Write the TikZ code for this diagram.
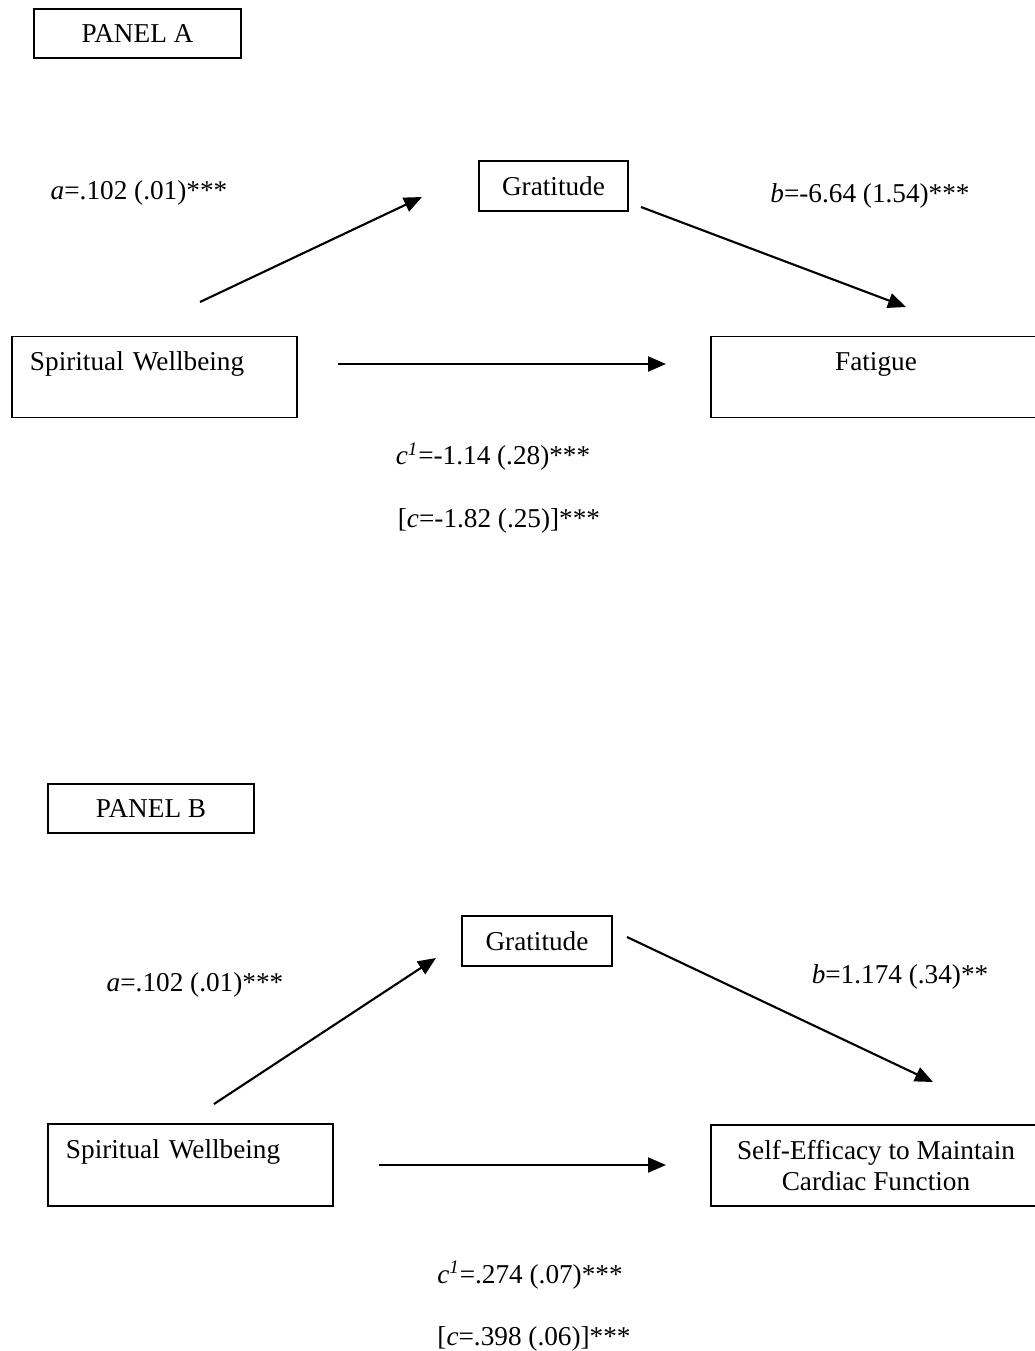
\documentclass[tikz,border=0pt]{standalone}
\usepackage{fontspec}
\setmainfont{Liberation Serif}
\usetikzlibrary{arrows.meta}

\begin{document}
\begin{tikzpicture}[x=0.2mm,y=-0.2mm,
    box/.style={draw=black,line width=1.1pt,inner sep=0pt,align=center,font=\fontsize{15.5}{18}\selectfont},
    coef/.style={font=\fontsize{15.5}{18}\selectfont},
    effect/.style={line width=1.2pt,-{Triangle[length=3.6mm,width=3mm]}}]
    \useasboundingbox (0,0) rectangle (1034,1351);
    % panel A
    \node[box,minimum width=41.4mm,minimum height=9.8mm] (panelA) at (137.5,33.5) {PANEL A};
    \node[box,minimum width=29.8mm,minimum height=10mm] (gratA) at (553.5,186) {Gratitude};
    \node[box,minimum width=57mm,minimum height=16.2mm,inner xsep=3.6mm,text width=49.8mm,align=left] (swA) at (154.5,377) {Spiritual Wellbeing\\ \mbox{}};
    \node[box,minimum width=66mm,minimum height=16.2mm] (fatA) at (876,377) {Fatigue\\ \mbox{}};
    \coordinate (aA0) at (200,302);
    \coordinate (aA1) at (422,197);
    \coordinate (bA0) at (641,207);
    \coordinate (bA1) at (906,307);
    \coordinate (cA0) at (338,364);
    \coordinate (cA1) at (666,364);
    \draw[effect] (aA0) -- (aA1);
    \draw[effect] (bA0) -- (bA1);
    \draw[effect] (cA0) -- (cA1);
    \node[coef] (labaA) at (139,193) {\textit{a}=.102 (.01)***};
    \node[coef] (labbA) at (870,196) {\textit{b}=-6.64 (1.54)***};
    \node[coef] (labcpA) at (493,457) {\textit{c}\textsuperscript{\textit{1}}=-1.14 (.28)***};
    \node[coef] (labcA) at (499,521) {[\textit{c}=-1.82 (.25)]***};
    % panel B
    \node[box,minimum width=41.2mm,minimum height=9.8mm] (panelB) at (151,808.5) {PANEL B};
    \node[box,minimum width=30mm,minimum height=10mm] (gratB) at (537,941) {Gratitude};
    \node[box,minimum width=57mm,minimum height=16.4mm,inner xsep=3.6mm,text width=49.8mm,align=left] (swB) at (190.5,1165) {Spiritual Wellbeing\\ \mbox{}};
    \node[box,minimum width=66mm,minimum height=16.2mm] (seB) at (876,1165.5) {Self-Efficacy to Maintain\\ Cardiac Function};
    \coordinate (aB0) at (214,1104);
    \coordinate (aB1) at (436,958);
    \coordinate (bB0) at (627,937);
    \coordinate (bB1) at (933,1082);
    \coordinate (cB0) at (379,1165);
    \coordinate (cB1) at (666,1165);
    \draw[effect] (aB0) -- (aB1);
    \draw[effect] (bB0) -- (bB1);
    \draw[effect] (cB0) -- (cB1);
    \node[coef] (labaB) at (195,985) {\textit{a}=.102 (.01)***};
    \node[coef] (labbB) at (900,977) {\textit{b}=1.174 (.34)**};
    \node[coef] (labcpB) at (530,1275) {\textit{c}\textsuperscript{\textit{1}}=.274 (.07)***};
    \node[coef] (labcB) at (534,1339) {[\textit{c}=.398 (.06)]***};
\end{tikzpicture}
\end{document}
